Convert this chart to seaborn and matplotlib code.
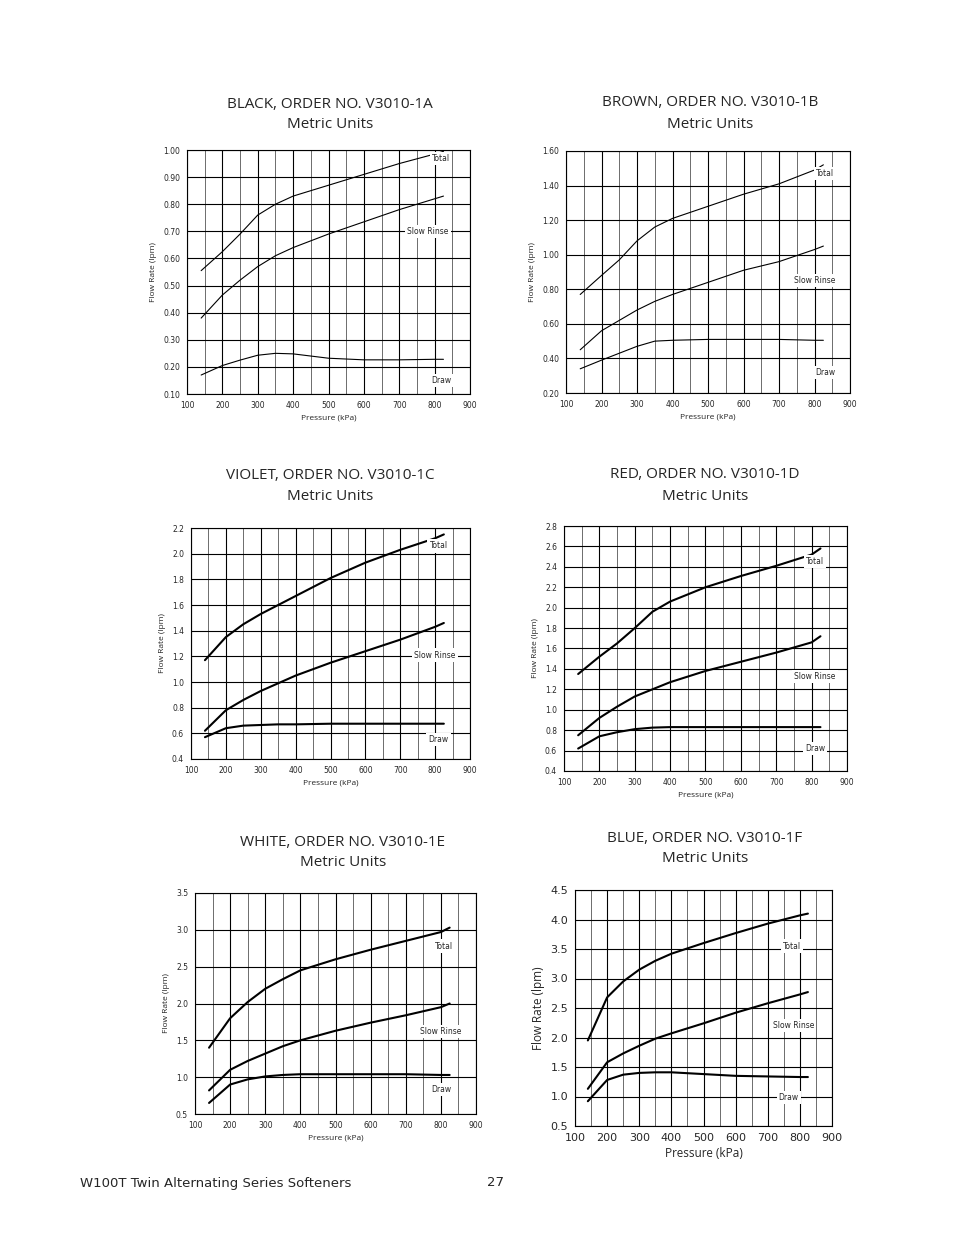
import matplotlib
matplotlib.use("Agg")
import matplotlib.pyplot as plt
import seaborn as sns
import pandas as pd
import numpy as np
from matplotlib.ticker import MultipleLocator, FormatStrFormatter

pressure = [140, 200, 250, 300, 350, 400, 500, 600, 700, 800, 825]

a_total = [0.555, 0.625, 0.69, 0.76, 0.80, 0.83, 0.87, 0.91, 0.95, 0.985, 0.995]
a_slow = [0.38, 0.465, 0.52, 0.57, 0.61, 0.64, 0.69, 0.735, 0.78, 0.82, 0.83]
a_draw = [0.17, 0.205, 0.225, 0.243, 0.25, 0.248, 0.232, 0.226, 0.226, 0.228, 0.228]

b_total = [0.77, 0.88, 0.97, 1.08, 1.16, 1.21, 1.28, 1.35, 1.41, 1.49, 1.52]
b_slow = [0.45, 0.56, 0.62, 0.68, 0.73, 0.77, 0.84, 0.91, 0.96, 1.03, 1.05]
b_draw = [0.34, 0.39, 0.43, 0.47, 0.50, 0.505, 0.51, 0.51, 0.51, 0.505, 0.505]

c_total = [1.17, 1.35, 1.45, 1.53, 1.60, 1.67, 1.81, 1.93, 2.03, 2.12, 2.15]
c_slow = [0.62, 0.78, 0.86, 0.93, 0.99, 1.05, 1.15, 1.24, 1.33, 1.43, 1.46]
c_draw = [0.57, 0.64, 0.66, 0.665, 0.67, 0.67, 0.675, 0.675, 0.675, 0.675, 0.675]

d_total = [1.35, 1.52, 1.65, 1.80, 1.96, 2.06, 2.20, 2.31, 2.41, 2.52, 2.58]
d_slow = [0.75, 0.92, 1.03, 1.13, 1.20, 1.27, 1.38, 1.47, 1.56, 1.66, 1.72]
d_draw = [0.62, 0.74, 0.78, 0.81, 0.825, 0.83, 0.83, 0.83, 0.83, 0.83, 0.83]

e_total = [1.40, 1.80, 2.02, 2.20, 2.33, 2.45, 2.60, 2.73, 2.85, 2.97, 3.03]
e_slow = [0.82, 1.10, 1.22, 1.32, 1.42, 1.50, 1.63, 1.74, 1.84, 1.95, 2.00]
e_draw = [0.65, 0.90, 0.97, 1.01, 1.03, 1.04, 1.04, 1.04, 1.04, 1.03, 1.03]

f_total = [1.95, 2.68, 2.95, 3.15, 3.30, 3.42, 3.60, 3.77, 3.93, 4.07, 4.10]
f_slow = [1.13, 1.58, 1.73, 1.86, 1.98, 2.07, 2.24, 2.42, 2.58, 2.73, 2.77]
f_draw = [0.92, 1.28, 1.37, 1.40, 1.41, 1.41, 1.38, 1.35, 1.34, 1.33, 1.33]

titles = ["BLACK, ORDER NO. V3010-1A", "BROWN, ORDER NO. V3010-1B",
          "VIOLET, ORDER NO. V3010-1C", "RED, ORDER NO. V3010-1D",
          "WHITE, ORDER NO. V3010-1E", "BLUE, ORDER NO. V3010-1F"]
series_names = ["Total", "Slow Rinse", "Draw"]

W, H = 954, 1235
fig = plt.figure(figsize=(W / 100, H / 100), dpi=100)
sns.set_style("white")

# (x0, y0, x1, y1) px, ylim, ystep, fmt, linewidth, fontsize, title center, label positions
charts = [
    ((187, 150, 470, 394), (0.1, 1.0), 0.1, "%.2f", 0.8, 5.5, (330, 104), [(818, 0.97), (781, 0.70), (820, 0.15)], (a_total, a_slow, a_draw)),
    ((566, 151, 850, 393), (0.2, 1.6), 0.2, "%.2f", 0.8, 5.5, (710, 103), [(830, 1.47), (800, 0.85), (830, 0.32)], (b_total, b_slow, b_draw)),
    ((191, 528, 470, 759), (0.4, 2.2), 0.2, "%.1f", 1.5, 5.5, (330, 476), [(810, 2.06), (800, 1.21), (810, 0.55)], (c_total, c_slow, c_draw)),
    ((564, 526, 847, 771), (0.4, 2.8), 0.2, "%.1f", 1.5, 5.5, (705, 475), [(810, 2.45), (810, 1.33), (810, 0.62)], (d_total, d_slow, d_draw)),
    ((195, 893, 476, 1114), (0.5, 3.5), 0.5, "%.1f", 1.5, 5.5, (343, 842), [(810, 2.78), (800, 1.62), (800, 0.83)], (e_total, e_slow, e_draw)),
    ((575, 890, 832, 1126), (0.5, 4.5), 0.5, "%.1f", 1.5, 8, (705, 838), [(775, 3.55), (780, 2.2), (765, 0.98)], (f_total, f_slow, f_draw)),
]

for title, (box, ylim, ystep, fmt, lw, fs, tc, lpos, data) in zip(titles, charts):
    x0, y0, x1, y1 = box
    ax = fig.add_axes([x0 / W, 1 - y1 / H, (x1 - x0) / W, (y1 - y0) / H])
    for vals in data:
        df = pd.DataFrame({"p": pressure, "v": vals})
        sns.lineplot(data=df, x="p", y="v", ax=ax, color="black", lw=lw)
    ax.set_xlim(100, 900)
    ax.set_ylim(*ylim)
    ax.xaxis.set_major_locator(MultipleLocator(100))
    ax.xaxis.set_minor_locator(MultipleLocator(50))
    ax.yaxis.set_major_locator(MultipleLocator(ystep))
    ax.yaxis.set_major_formatter(FormatStrFormatter(fmt))
    ax.grid(which="major", axis="both", color="black", lw=0.8)
    ax.grid(which="minor", axis="x", color="#555555", lw=0.6)
    ax.set_axisbelow(True)
    for s in ax.spines.values():
        s.set_color("black"); s.set_linewidth(0.8)
    ax.tick_params(labelsize=fs, length=3, width=0.6, pad=2)
    ax.set_xlabel("Pressure (kPa)", fontsize=fs + 0.5, fontfamily="Open Sans", labelpad=3)
    ax.set_ylabel("Flow Rate (lpm)", fontsize=fs + 0.5, fontfamily="Open Sans", labelpad=4)
    for name, (lx, ly) in zip(series_names, lpos):
        ax.text(lx, ly, name, fontsize=5.5, ha="center", va="center",
                bbox=dict(facecolor="white", edgecolor="none", pad=1.5), zorder=5)
    fig.text(tc[0] / W, 1 - tc[1] / H, title, fontsize=11, ha="center", va="center", fontfamily="Open Sans")
    fig.text(tc[0] / W, 1 - (tc[1] + 21) / H, "Metric Units", fontsize=11, ha="center", va="center", fontfamily="Open Sans")

fig.text(80 / W, 1 - 1183 / H, "W100T Twin Alternating Series Softeners", fontsize=9.5, va="center")
fig.text(496 / W, 1 - 1183 / H, "27", fontsize=9.5, va="center", ha="center")

fig.savefig("out.png", dpi=100, facecolor="white")
